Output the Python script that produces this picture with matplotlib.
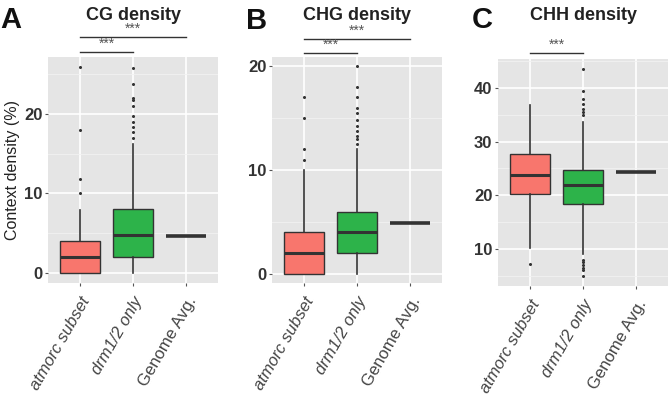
import numpy as np
import matplotlib
matplotlib.use("Agg")
import matplotlib.pyplot as plt
import matplotlib.transforms as mtransforms

plt.rcParams['font.family'] = ['Liberation Sans', 'DejaVu Sans']

W, H = 672, 394

categories = ["atmorc subset", "drm1/2 only", "Genome Avg."]
titles = ["CG density", "CHG density", "CHH density"]
letters = ["A", "B", "C"]

# box stats per panel: (whislo, q1, med, q3, whishi, fliers)
cg_atmorc = (0, 0, 2.0, 4.0, 7.9, [10, 11.8, 18, 26])
cg_drm = (0, 2.0, 4.8, 8.0, 16.2, [17, 17.8, 18.4, 19, 19.8, 21, 21.8, 22, 23.8, 25.8])
cg_genome = 4.6

chg_atmorc = (0, 0, 2.0, 4.0, 10.0, [11, 12, 15, 17])
chg_drm = (0, 2.0, 4.0, 6.0, 12.0, [12.5, 13, 13.3, 13.8, 14.3, 14.8, 15.5, 16, 17, 18, 20])
chg_genome = 4.9

chh_atmorc = (10.2, 20.2, 23.8, 27.7, 36.8, [7.2])
chh_drm = (9.0, 18.4, 21.9, 24.7, 33.7, [5, 6, 6.5, 7, 7.5, 8, 35, 35.5, 36, 37, 38, 39.5, 43.5])
chh_genome = 24.4

panels = [
    (cg_atmorc, cg_drm, cg_genome, (-1.3, 27.2), [0, 10, 20], [5, 15, 25]),
    (chg_atmorc, chg_drm, chg_genome, (-0.87, 20.9), [0, 10, 20], [5, 15]),
    (chh_atmorc, chh_drm, chh_genome, (3.1, 45.4), [10, 20, 30, 40], [5, 15, 25, 35, 45]),
]

# axes boxes in pixels: left, right, top, bottom
boxes = [(48, 218, 57, 283), (272, 442, 57, 283), (498, 668, 59, 286)]
# significance bars: (x1, x2, y_px)
sig = [[(1, 3, 37), (1, 2, 52)], [(1, 3, 39), (1, 2, 53)], [(1, 2, 53)]]
letter_pos = [(11, 20), (257, 21), (482, 20)]

colors = ["#F8766D", "#2DB34A"]
edge = "#333333"

fig = plt.figure(figsize=(W / 100, H / 100), dpi=100)

def stats(s):
    lo, q1, med, q3, hi, fl = s
    return dict(whislo=lo, q1=q1, med=med, q3=q3, whishi=hi, fliers=fl)

for i, (a, d, g, ylim, yt, ymt) in enumerate(panels):
    l, r, t, b = boxes[i]
    ax = fig.add_axes([l / W, 1 - b / H, (r - l) / W, (b - t) / H])
    ax.set_facecolor("#E5E5E5")
    for s in ax.spines.values():
        s.set_visible(False)

    bp = ax.bxp([stats(a), stats(d), stats((g, g, g, g, g, []))],
                positions=[1, 2, 3], widths=0.75, patch_artist=True, showcaps=False,
                manage_ticks=False,
                boxprops=dict(edgecolor=edge, lw=1.0),
                whiskerprops=dict(color=edge, lw=1.2),
                medianprops=dict(color=edge, lw=2.2, solid_capstyle="butt"),
                flierprops=dict(marker="o", markersize=1.2, markerfacecolor=edge,
                                markeredgecolor=edge, linestyle="none"))
    for patch, c in zip(bp["boxes"], colors + ["none"]):
        patch.set_facecolor(c)
    bp["boxes"][2].set_edgecolor("none")
    bp["medians"][2].set_linewidth(2.6)

    ax.set_xlim(0.4, 3.6)
    ax.set_ylim(*ylim)
    ax.set_yticks(yt)
    ax.set_yticks(ymt, minor=True)
    ax.set_xticks([1, 2, 3])
    ax.grid(True, which="major", color="white", lw=1.2)
    ax.grid(True, which="minor", axis="y", color="#F2F2F2", lw=0.6)
    ax.set_axisbelow(True)
    ax.tick_params(axis="y", which="minor", length=0)
    ax.tick_params(axis="both", which="major", length=2, color="#555555", pad=2)
    ax.tick_params(axis="x", pad=6)
    ax.set_yticklabels([str(v) for v in yt], fontsize=12, fontweight="bold", color="#333333")
    ax.set_xticklabels(categories, rotation=60, ha="right", rotation_mode="anchor",
                       fontsize=12, color="#444444")
    for lab in ax.get_xticklabels()[:2]:
        lab.set_style("italic")

    if i == 0:
        ax.set_ylabel("Context density (%)", fontsize=11.5, color="#222222", labelpad=3)

    tr = mtransforms.blended_transform_factory(ax.transData, fig.transFigure)
    for x1, x2, ypx in sig[i]:
        yf = 1 - ypx / H
        ax.plot([x1, x2], [yf, yf], color="#333333", lw=1.0, transform=tr, clip_on=False)
        ax.text((x1 + x2) / 2, yf + 1.0 / H, "***", transform=tr, ha="center", va="bottom",
                fontsize=10, color="#555555")
    ax.text(2, 1 - 15 / H, titles[i], transform=tr, ha="center", va="center",
            fontsize=13, fontweight="bold", color="#222222")
    fig.text(letter_pos[i][0] / W, 1 - letter_pos[i][1] / H, letters[i], ha="center",
             va="center", fontsize=21, fontweight="bold", color="#111111")

fig.savefig("out.png", dpi=100)
